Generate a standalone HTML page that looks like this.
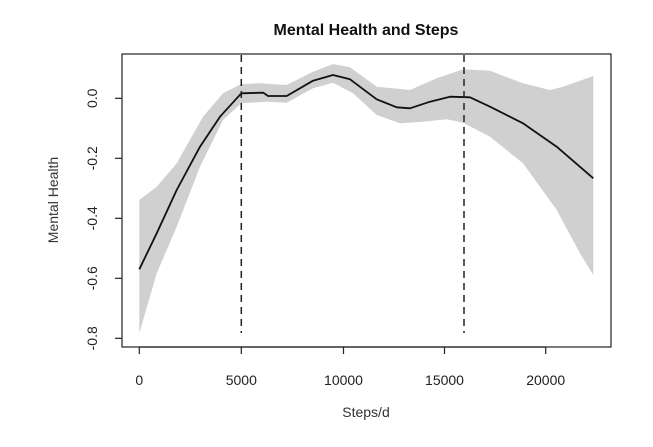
<!DOCTYPE html>
<html><head><meta charset="utf-8"><style>
html,body{margin:0;padding:0;background:#fff;}
svg{display:block;font-family:"Liberation Sans",Arial,sans-serif;}
</style></head><body>
<svg width="653" height="447" viewBox="0 0 653 447">
<rect width="653" height="447" fill="#fff"/>
<text x="366" y="35" text-anchor="middle" font-size="16" font-weight="bold" fill="#111">Mental Health and Steps</text>
<polygon fill="#d0d0d0" points="139.3,200 156.7,186.7 176.7,163.3 203,116.7 223,93.3 241.3,84 260,83.3 286.7,85 313,71.7 333,64 350,67.3 376.7,86.7 410,90 436.7,78.3 463.3,69.3 490,70.7 523,83.3 550,90 563,86.7 593.3,76 593.3,275 580,253.3 556.7,210 523,163.3 490,136.7 463,122.7 446.7,119.3 423,121.7 400,123.3 376.7,115 353,93.3 333,82.7 313,88.3 286.7,102.7 266.7,101.7 241.3,103.3 223,120 200,166.7 176.7,226.7 156.7,273.3 139.3,333.3"/>
<polyline fill="none" stroke="#111" stroke-width="1.8" stroke-linejoin="round" points="139.3,269.3 156.7,233.3 176.7,190 200,146.7 220,116.7 241.3,93.3 263.3,92.7 268,96 286.7,96 313,80.7 333,75 350,79.3 376.7,99.3 396.7,107.3 410,108.3 430,101.7 450,96.7 470,97.3 490,106.7 523,123.3 556.7,146.7 593.3,178.3"/>
<g stroke="#222" stroke-width="1.5" stroke-dasharray="7,5">
<line x1="241.3" y1="55" x2="241.3" y2="333"/>
<line x1="464" y1="55" x2="464" y2="333"/>
</g>
<rect x="122" y="54" width="489" height="293" fill="none" stroke="#222" stroke-width="1.2"/>
<g stroke="#222" stroke-width="1.2">
<line x1="139.3" y1="347" x2="545.7" y2="347"/>
<line x1="139.3" y1="347" x2="139.3" y2="354"/>
<line x1="241.3" y1="347" x2="241.3" y2="354"/>
<line x1="343.5" y1="347" x2="343.5" y2="354"/>
<line x1="444.5" y1="347" x2="444.5" y2="354"/>
<line x1="545.7" y1="347" x2="545.7" y2="354"/>
<line x1="115" y1="98.3" x2="122" y2="98.3"/>
<line x1="115" y1="158.3" x2="122" y2="158.3"/>
<line x1="115" y1="218.3" x2="122" y2="218.3"/>
<line x1="115" y1="278.3" x2="122" y2="278.3"/>
<line x1="115" y1="338.3" x2="122" y2="338.3"/>
</g>
<g font-size="14" fill="#222" text-anchor="middle">
<text x="139.3" y="385">0</text>
<text x="241.3" y="385">5000</text>
<text x="343.5" y="385">10000</text>
<text x="444.5" y="385">15000</text>
<text x="545.7" y="385">20000</text>
<text transform="translate(97,98.3) rotate(-90)">0.0</text>
<text transform="translate(97,158.3) rotate(-90)">-0.2</text>
<text transform="translate(97,218.3) rotate(-90)">-0.4</text>
<text transform="translate(97,278.3) rotate(-90)">-0.6</text>
<text transform="translate(97,338.3) rotate(-90)">-0.8</text>
</g>
<text x="366" y="417" text-anchor="middle" font-size="14" fill="#333">Steps/d</text>
<text transform="translate(58,200) rotate(-90)" text-anchor="middle" font-size="14" fill="#333">Mental Health</text>
</svg>
</body></html>
